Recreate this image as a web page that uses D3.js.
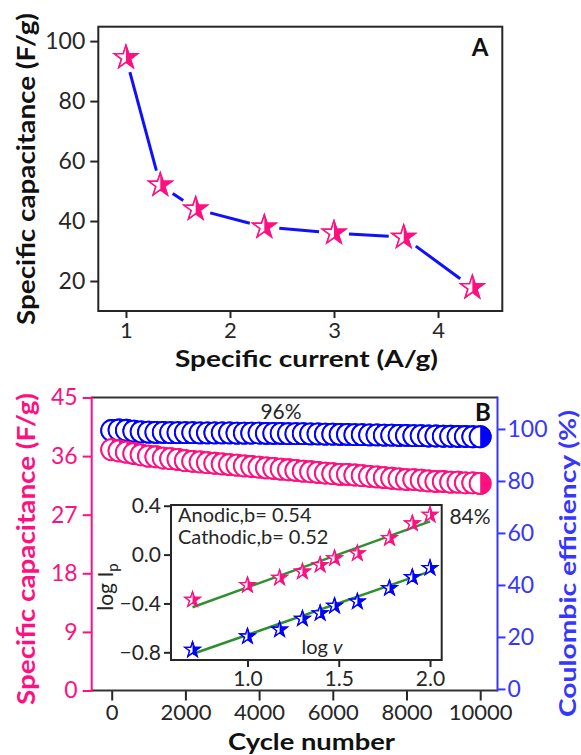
<!DOCTYPE html>
<html><head><meta charset="utf-8">
<script src="https://cdn.jsdelivr.net/npm/d3@7"></script>
<style>
body{margin:0;background:#fff;}
svg text{font-family:Lato,"Open Sans",sans-serif;}
</style></head><body>
<svg id="c" width="581" height="755"></svg>
<script>
// ---------- DATA ----------
// Panel A
const currentA = [1.0, 1.33, 1.67, 2.33, 3.0, 3.67, 4.33];
const capA = [94.5, 52, 44, 38, 36, 34.6, 17.8];
const ticksAx = [1, 2, 3, 4];
const ticksAy = [20, 40, 60, 80, 100];
// Panel B
const cycles = [0,200,400,600,800,1000,1200,1400,1600,1800,2000,2200,2400,2600,2800,3000,3200,3400,3600,3800,4000,4200,4400,4600,4800,5000,5200,5400,5600,5800,6000,6200,6400,6600,6800,7000,7200,7400,7600,7800,8000,8200,8400,8600,8800,9000,9200,9400,9600,9800,10000];
const capB = [37.0,36.8,36.6,36.4,36.2,36.0,35.9,35.7,35.6,35.5,
  35.3,35.2,35.1,35.0,34.9,34.8,34.7,34.6,34.5,34.4,
  34.3,34.2,34.1,34.0,33.9,33.8,33.7,33.6,33.5,33.4,
  33.3,33.2,33.2,33.1,33.0,32.9,32.8,32.7,32.6,32.5,
  32.4,32.4,32.3,32.2,32.1,32.1,32.0,32.0,31.9,31.9,31.8];
const effB = [99.4,99.6,99.5,99.2,98.9,98.8,98.7,98.7,98.6,98.6,
  98.6,98.6,98.5,98.5,98.5,98.5,98.5,98.4,98.4,98.4,
  98.4,98.3,98.3,98.3,98.2,98.2,98.2,98.1,98.1,98.0,
  98.0,97.9,97.9,97.8,97.8,97.7,97.7,97.6,97.6,97.5,
  97.5,97.4,97.4,97.3,97.3,97.2,97.2,97.1,97.1,97.0,97.0];
const ticksBx = [0, 2000, 4000, 6000, 8000, 10000];
const ticksBl = [0, 9, 18, 27, 36, 45];
const ticksBr = [0, 20, 40, 60, 80, 100];
// Inset
const logV = [0.699, 1.0, 1.176, 1.301, 1.398, 1.477, 1.602, 1.778, 1.903, 2.0];
const anodic = [-0.37, -0.25, -0.19, -0.14, -0.085, -0.03, 0.01, 0.135, 0.255, 0.325];
const cathodic = [-0.78, -0.67, -0.615, -0.525, -0.48, -0.42, -0.385, -0.275, -0.185, -0.11];
const fitX = [0.699, 2.0];
const fitAnodic = [-0.431, 0.272];
const fitCathodic = [-0.814, -0.137];
const ticksIx = [1.0, 1.5, 2.0];
const ticksIy = [-0.8, -0.4, 0.0, 0.4];

// ---------- STYLE ----------
const PINK = "#ff1080", BLUE = "#0000ff", AXBLUE = "#3636ff", DARK = "#262626", GREEN = "#2f8f2f";
const svg = d3.select("#c");
svg.append("defs").append("clipPath").attr("id","leftHalf").attr("clipPathUnits","userSpaceOnUse")
  .append("rect").attr("x",-40).attr("y",-40).attr("width",40).attr("height",80);

function halfMarker(sel, d, color, sw){
  sel.append("path").attr("d", d).attr("fill", color).attr("stroke", color).attr("stroke-width", sw);
  sel.append("path").attr("d", d).attr("fill", "#fff").attr("clip-path","url(#leftHalf)");
  sel.append("path").attr("d", d).attr("fill", "none").attr("stroke", color).attr("stroke-width", sw);
}
function styleAxis(g, color, size){
  g.select(".domain").remove();
  g.selectAll(".tick line").attr("stroke", color).attr("stroke-width", 2);
  g.selectAll(".tick text").attr("fill", color).attr("font-size", size)
    .attr("font-family","Lato, 'Open Sans', sans-serif");
}

// ---------- PANEL A ----------
const A = {l:98.3, r:502.3, t:26.7, b:311};
const xA = d3.scaleLinear().domain([0.734, 4.618]).range([A.l, A.r]);
const yA = d3.scaleLinear().domain([10, 104.8]).range([A.b, A.t]);

svg.append("g").attr("transform",`translate(${A.l},0)`)
  .call(d3.axisLeft(yA).tickValues(ticksAy).tickSize(8).tickPadding(5).tickFormat(d3.format("d")))
  .call(g=>styleAxis(g, DARK, 23));
svg.append("g").attr("transform",`translate(0,${A.b})`)
  .call(d3.axisBottom(xA).tickValues(ticksAx).tickSize(7).tickPadding(4).tickFormat(d3.format("d")))
  .call(g=>styleAxis(g, DARK, 22));
svg.append("rect").attr("x",A.l).attr("y",A.t).attr("width",A.r-A.l).attr("height",A.b-A.t)
  .attr("fill","none").attr("stroke",DARK).attr("stroke-width",2);

// line segments with gaps at the markers
const gap = 15;
for(let i=0;i<currentA.length-1;i++){
  const x1=xA(currentA[i]), y1=yA(capA[i]), x2=xA(currentA[i+1]), y2=yA(capA[i+1]);
  const L=Math.hypot(x2-x1,y2-y1), ux=(x2-x1)/L, uy=(y2-y1)/L;
  svg.append("line").attr("x1",x1+ux*gap).attr("y1",y1+uy*gap).attr("x2",x2-ux*gap).attr("y2",y2-uy*gap)
    .attr("stroke","#1010ff").attr("stroke-width",3);
}
const starA = d3.symbol().type(d3.symbolStar).size(165)();
currentA.forEach((c,i)=>{
  const g = svg.append("g").attr("transform",`translate(${xA(c)},${yA(capA[i])})`);
  halfMarker(g, starA, PINK, 1.5);
});
svg.append("text").attr("x",480).attr("y",56).attr("text-anchor","middle")
  .attr("font-weight","bold").attr("font-size",24).attr("fill","#111").text("A");
svg.append("text").attr("transform","translate(35,169) rotate(-90)").attr("text-anchor","middle")
  .attr("font-weight","bold").attr("font-size",24).attr("fill","#111")
  .attr("textLength",312).attr("lengthAdjust","spacingAndGlyphs").text("Specific capacitance (F/g)");
svg.append("text").attr("x",306.5).attr("y",367).attr("text-anchor","middle")
  .attr("font-weight","bold").attr("font-size",23).attr("fill","#111")
  .attr("textLength",263).attr("lengthAdjust","spacingAndGlyphs").text("Specific current (A/g)");

// ---------- PANEL B ----------
const B = {l:91.7, r:497.5, t:397.5, b:690.5};
const xB = d3.scaleLinear().domain([-543, 10470]).range([B.l, B.r]);
const yBl = d3.scaleLinear().domain([0, 45]).range([B.b, B.t]);
const yBr = d3.scaleLinear().domain([-0.6, 112.1]).range([B.b, B.t]);

svg.append("g").attr("transform",`translate(${B.l},0)`)
  .call(d3.axisLeft(yBl).tickValues(ticksBl).tickSize(9).tickPadding(5))
  .call(g=>styleAxis(g, PINK, 23));
svg.append("g").attr("transform",`translate(${B.r},0)`)
  .call(d3.axisRight(yBr).tickValues(ticksBr).tickSize(8).tickPadding(2))
  .call(g=>styleAxis(g, AXBLUE, 23));
svg.append("g").attr("transform",`translate(0,${B.b})`)
  .call(d3.axisBottom(xB).tickValues(ticksBx).tickSize(10).tickPadding(4).tickFormat(d3.format("d")))
  .call(g=>styleAxis(g, DARK, 22));
svg.append("line").attr("x1",B.l).attr("x2",B.r).attr("y1",B.t).attr("y2",B.t).attr("stroke","#333").attr("stroke-width",2);
svg.append("line").attr("x1",B.l).attr("x2",B.r).attr("y1",B.b).attr("y2",B.b).attr("stroke","#333").attr("stroke-width",2);
svg.append("line").attr("x1",B.l).attr("x2",B.l).attr("y1",B.t-1).attr("y2",B.b+1).attr("stroke",PINK).attr("stroke-width",2);
svg.append("line").attr("x1",B.r).attr("x2",B.r).attr("y1",B.t-1).attr("y2",B.b+1).attr("stroke",AXBLUE).attr("stroke-width",2);

const circ = d3.symbol().type(d3.symbolCircle).size(Math.PI*10.5*10.5)();
cycles.forEach((c,i)=>{
  const g = svg.append("g").attr("transform",`translate(${xB(c)},${yBr(effB[i])})`);
  halfMarker(g, circ, BLUE, 1.8);
});
cycles.forEach((c,i)=>{
  const g = svg.append("g").attr("transform",`translate(${xB(c)},${yBl(capB[i])})`);
  halfMarker(g, circ, PINK, 1.8);
});
svg.append("text").attr("x",281).attr("y",419).attr("text-anchor","middle").attr("font-size",21).attr("fill",DARK).text("96%");
svg.append("text").attr("x",470).attr("y",524).attr("text-anchor","middle").attr("font-size",21).attr("fill",DARK).text("84%");
svg.append("text").attr("x",483).attr("y",421).attr("text-anchor","middle")
  .attr("font-weight","bold").attr("font-size",24).attr("fill","#111").text("B");

svg.append("text").attr("transform","translate(35,549) rotate(-90)").attr("text-anchor","middle")
  .attr("font-weight","bold").attr("font-size",24).attr("fill",PINK)
  .attr("textLength",312).attr("lengthAdjust","spacingAndGlyphs").text("Specific capacitance (F/g)");
svg.append("text").attr("transform","translate(576,563.5) rotate(-90)").attr("text-anchor","middle")
  .attr("font-weight","bold").attr("font-size",23).attr("fill",AXBLUE)
  .attr("textLength",307).attr("lengthAdjust","spacingAndGlyphs").text("Coulombic efficiency (%)");
svg.append("text").attr("x",311.5).attr("y",750).attr("text-anchor","middle")
  .attr("font-weight","bold").attr("font-size",23).attr("fill","#111")
  .attr("textLength",167).attr("lengthAdjust","spacingAndGlyphs").text("Cycle number");

// ---------- INSET ----------
const I = {l:171, r:441.7, t:505, b:660};
const xI = d3.scaleLinear().domain([0.581, 2.064]).range([I.l, I.r]);
const yI = d3.scaleLinear().domain([-0.863, 0.406]).range([I.b, I.t]);
svg.append("rect").attr("x",I.l).attr("y",I.t).attr("width",I.r-I.l).attr("height",I.b-I.t)
  .attr("fill","#fff").attr("stroke",DARK).attr("stroke-width",2);
svg.append("g").attr("transform",`translate(${I.l},0)`)
  .call(d3.axisLeft(yI).tickValues(ticksIy).tickSize(7).tickPadding(3).tickFormat(d3.format(".1f")))
  .call(g=>styleAxis(g, DARK, 21));
svg.append("g").attr("transform",`translate(0,${I.b})`)
  .call(d3.axisBottom(xI).tickValues(ticksIx).tickSize(7).tickPadding(4).tickFormat(d3.format(".1f")))
  .call(g=>styleAxis(g, DARK, 21));
// fit lines
const fitLine = d3.line().x(d=>xI(d[0])).y(d=>yI(d[1]));
svg.append("path").attr("d", fitLine(d3.zip(fitX, fitAnodic))).attr("stroke",GREEN).attr("stroke-width",2.5).attr("fill","none");
svg.append("path").attr("d", fitLine(d3.zip(fitX, fitCathodic))).attr("stroke",GREEN).attr("stroke-width",2.5).attr("fill","none");
const starI = d3.symbol().type(d3.symbolStar).size(70)();
logV.forEach((v,i)=>{
  halfMarker(svg.append("g").attr("transform",`translate(${xI(v)},${yI(anodic[i])})`), starI, PINK, 1.3);
  halfMarker(svg.append("g").attr("transform",`translate(${xI(v)},${yI(cathodic[i])})`), starI, BLUE, 1.3);
});
svg.append("text").attr("x",178).attr("y",522).attr("font-size",20).attr("fill",DARK).text("Anodic,b= 0.54");
svg.append("text").attr("x",178).attr("y",544).attr("font-size",20).attr("fill",DARK).text("Cathodic,b= 0.52");
const lv = svg.append("text").attr("x",322).attr("y",654).attr("text-anchor","middle").attr("font-size",20).attr("fill",DARK);
lv.append("tspan").text("log ");
lv.append("tspan").attr("font-style","italic").text("v");
const lip = svg.append("text").attr("transform","translate(113,587) rotate(-90)").attr("text-anchor","middle").attr("font-size",21).attr("fill",DARK);
lip.append("tspan").text("log I");
lip.append("tspan").attr("font-size",15).attr("dy",5).text("p");
</script>
</body></html>
